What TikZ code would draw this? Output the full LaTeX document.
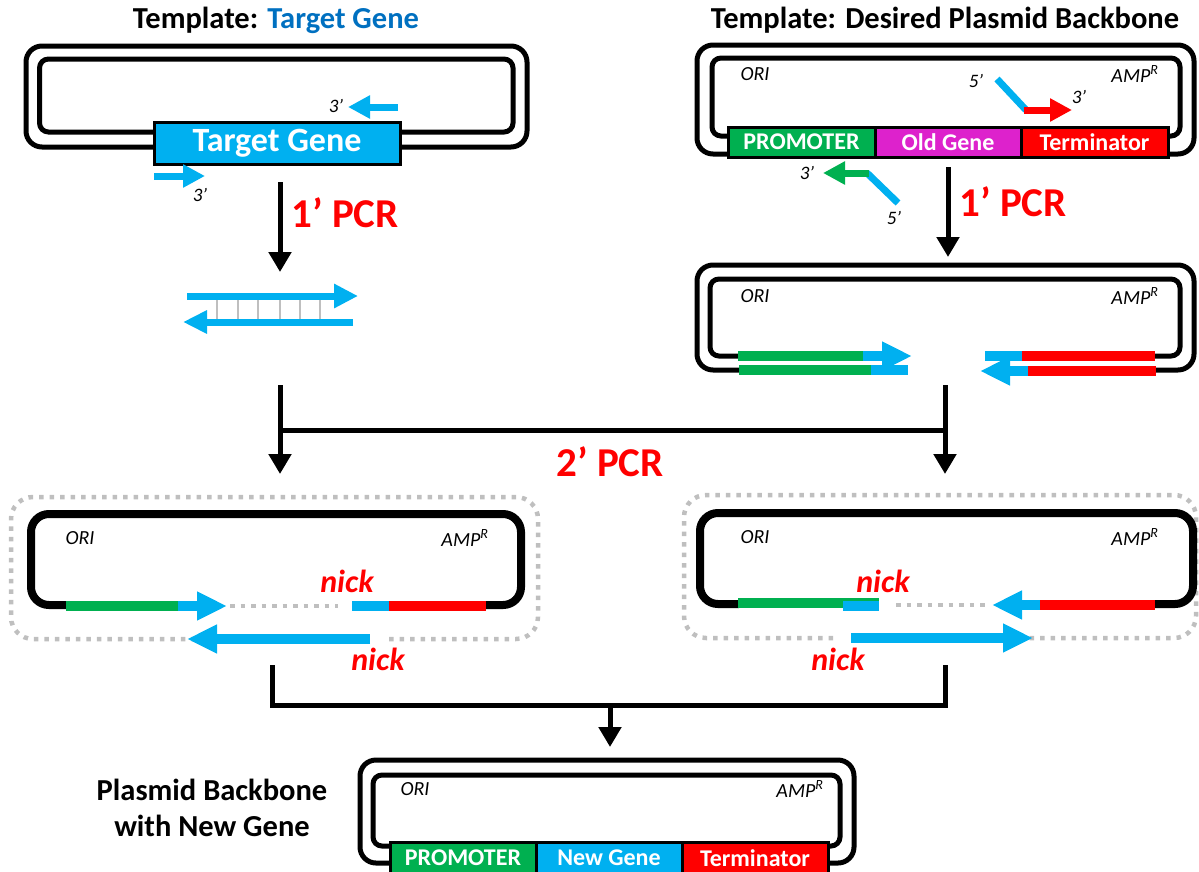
\documentclass[tikz,border=0pt]{standalone}
\usepackage{fontspec}
\setmainfont{Carlito}
\usetikzlibrary{arrows.meta}

\begin{document}
\begin{tikzpicture}[x=1pt,y=-1pt,
    backbone/.style={line width=5pt, rounded corners=16pt},
    innerbone/.style={line width=5pt, rounded corners=9pt},
    nickbone/.style={line width=8pt, rounded corners=18pt},
    dotbox/.style={draw=dotgray, line width=4.5pt, dash pattern=on 4.5pt off 6pt, rounded corners=22pt},
    part/.style={draw=black, line width=3pt},
    partlabel/.style={text=white, font=\bfseries\fontsize{24}{26}\selectfont},
    strand/.style={line width=10pt},
    strandtip/.style={-{Triangle[length=30pt,width=27pt]}},
    primer/.style={line width=7pt},
    primertip/.style={-{Triangle[length=22pt,width=22pt]}},
    flow/.style={line width=5pt, -{Triangle[length=20pt,width=22pt]}},
    title/.style={font=\bfseries\fontsize{30.5}{36}\selectfont},
    pcrlabel/.style={text=red, font=\bfseries\fontsize{41}{44}\selectfont},
    site/.style={font=\itshape\fontsize{20}{22}\selectfont},
    endmark/.style={font=\itshape\fontsize{19}{21}\selectfont},
    nicklabel/.style={text=red, font=\bfseries\itshape\fontsize{32}{34}\selectfont}]

    % Define the colors
    \definecolor{genecyan}{RGB}{0, 176, 240}
    \definecolor{promgreen}{RGB}{0, 176, 80}
    \definecolor{oldmagenta}{RGB}{221, 34, 204}
    \definecolor{termred}{RGB}{255, 0, 0}
    \definecolor{titleblue}{RGB}{0, 112, 192}
    \definecolor{dotgray}{RGB}{191, 191, 191}

    \useasboundingbox (0,0) rectangle (1199,871);

    % Titles
    \node[title] (titleL) at (276,20) {Template: \textcolor{titleblue}{Target Gene}};
    \node[title] (titleR) at (945,20) {Template: Desired Plasmid Backbone};

    % Template with the target gene
    \draw[backbone] (26,46) rectangle (527,147);
    \draw[innerbone] (39.5,59) rectangle (513,132);
    \filldraw[fill=genecyan, part] (154,122) rectangle (400,164) node[pos=.5, partlabel, font=\bfseries\fontsize{34}{36}\selectfont] (target) {Target Gene};
    \draw[primer, genecyan, primertip] (398,107) -- (348,107);
    \node[endmark] (endL1) at (336,106) {3’};
    \draw[primer, genecyan, primertip] (154,176) -- (205,176);
    \node[endmark] (endL2) at (200,195) {3’};

    % Template with the backbone
    \draw[backbone] (697,45) rectangle (1194,154);
    \draw[innerbone] (712,58) rectangle (1180,136);
    \filldraw[fill=promgreen, part] (728,127) rectangle (875,157) node[pos=.5, partlabel] (promR) {PROMOTER};
    \filldraw[fill=oldmagenta, part] (875,127) rectangle (1021,157) node[pos=.5, partlabel] (oldR) {Old Gene};
    \filldraw[fill=termred, part] (1021,127) rectangle (1168,157) node[pos=.5, partlabel] (termR) {Terminator};
    \node[site] (oriR) at (755,74) {ORI};
    \node[site] (ampR) at (1135,74) {AMP\textsuperscript{R}};
    % primers with overhangs
    \draw[primer, genecyan] (997,79) -- (1026,110);
    \draw[primer, termred, primertip] (1024,110) -- (1072,110);
    \node[endmark] (endR1) at (976,81) {5’};
    \node[endmark] (endR2) at (1079,97) {3’};
    \draw[primer, genecyan] (898,203) -- (867,173);
    \draw[primer, promgreen, primertip] (869,173) -- (823,173);
    \node[endmark] (endR3) at (807,173) {3’};
    \node[endmark] (endR4) at (894,218) {5’};

    % 1' PCR steps
    \coordinate (pcrL-a) at (280,182);
    \coordinate (pcrL-b) at (280,272);
    \draw[flow] (pcrL-a) -- (pcrL-b);
    \node[pcrlabel, anchor=west] (pcrL) at (288,213) {1’ PCR};
    \coordinate (pcrR-a) at (948,167);
    \coordinate (pcrR-b) at (948,257);
    \draw[flow] (pcrR-a) -- (pcrR-b);
    \node[pcrlabel, anchor=west] (pcrR) at (956,202) {1’ PCR};

    % Amplified target gene
    \foreach \x in {217,238,258,280,300,320}
        \draw[dotgray, line width=1.5pt] (\x,300) -- (\x,319);
    \draw[primer, genecyan, -{Triangle[length=24pt,width=23pt]}] (187,296) -- (358,296);
    \draw[primer, genecyan, -{Triangle[length=24pt,width=22pt]}] (353,322) -- (183,322);

    % Amplified backbone
    \draw[backbone] (740,370) -- (697,370) -- (697,265) -- (1194,265) -- (1194,370) -- (1156,370);
    \draw[innerbone] (740,356) -- (710,356) -- (710,279) -- (1180,279) -- (1180,356) -- (1155,356);
    \node[site] (oriM) at (755,296) {ORI};
    \node[site] (ampM) at (1135,296) {AMP\textsuperscript{R}};
    \draw[strand, promgreen] (738,356) -- (864,356);
    \draw[strand, genecyan, strandtip] (863,356) -- (912,356);
    \draw[strand, promgreen] (739,370) -- (872,370);
    \draw[strand, genecyan] (871,370) -- (908,370);
    \draw[strand, genecyan] (985,356) -- (1023,356);
    \draw[strand, termred] (1022,356) -- (1155,356);
    \draw[strand, genecyan, strandtip] (1029,371) -- (980,371);
    \draw[strand, termred] (1028,371) -- (1156,371);

    % 2' PCR
    \coordinate (mixL) at (280,385);
    \coordinate (mixR) at (945,385);
    \coordinate (mixL-b) at (280,474);
    \coordinate (mixR-b) at (945,474);
    \draw[flow] (mixL) -- (mixL-b);
    \draw[flow] (mixR) -- (mixR-b);
    \draw[line width=5pt] (280,430) -- (945,430);
    \node[pcrlabel] (pcr2) at (610,462) {2’ PCR};

    % Nicked product, left
    \draw[dotbox] (389,639) -- (538,639) -- (538,497) -- (11,497) -- (11,639) -- (200,639);
    \draw[nickbone] (66,605) -- (31,605) -- (31,514) -- (521,514) -- (521,605) -- (486,605);
    \node[site] (oriNL) at (80,538) {ORI};
    \node[site] (ampNL) at (465,538) {AMP\textsuperscript{R}};
    \draw[dotgray, line width=4.5pt, dash pattern=on 4.5pt off 6pt] (230,606) -- (338,606);
    \draw[strand, promgreen] (66,606) -- (179,606);
    \draw[strand, genecyan, strandtip] (178,606) -- (227,606);
    \draw[strand, genecyan] (352,606) -- (390,606);
    \draw[strand, termred] (389,606) -- (486,606);
    \draw[strand, genecyan, strandtip] (370,639) -- (187,639);
    \node[nicklabel] (nickL1) at (347,581) {nick};
    \node[nicklabel] (nickL2) at (378,659) {nick};

    % Nicked product, right
    \draw[dotbox] (833,638) -- (684,638) -- (684,495) -- (1196,495) -- (1196,638) -- (1000,638);
    \draw[nickbone] (739,604) -- (700,604) -- (700,513) -- (1193,513) -- (1193,604) -- (1154,604);
    \node[site] (oriNR) at (755,537) {ORI};
    \node[site] (ampNR) at (1135,537) {AMP\textsuperscript{R}};
    \draw[dotgray, line width=4.5pt, dash pattern=on 4.5pt off 6pt] (896,605) -- (990,605);
    \draw[strand, promgreen] (738,603) -- (879,603);
    \draw[strand, genecyan] (843,606) -- (879,606);
    \draw[strand, genecyan, strandtip] (1041,605) -- (992,605);
    \draw[strand, termred] (1040,605) -- (1155,605);
    \draw[strand, genecyan, strandtip] (851,638) -- (1033,638);
    \node[nicklabel] (nickR1) at (883,581) {nick};
    \node[nicklabel] (nickR2) at (838,659) {nick};

    % Join to the final plasmid
    \coordinate (joinL) at (272,665);
    \coordinate (joinR) at (945,665);
    \coordinate (joinM) at (610,705);
    \coordinate (finalTop) at (610,747);
    \draw[line width=5pt, line join=miter] (joinL) |- (joinM) -| (joinR);
    \draw[flow] (joinM) -- (finalTop);

    % Final plasmid
    \draw[backbone] (360,760) rectangle (854,863);
    \draw[innerbone] (373,775) rectangle (840,846);
    \filldraw[fill=promgreen, part] (390,842) rectangle (536,874) node[pos=.5, partlabel] (promF) {PROMOTER};
    \filldraw[fill=genecyan, part] (536,842) rectangle (682,874) node[pos=.5, partlabel] (newF) {New Gene};
    \filldraw[fill=termred, part] (682,842) rectangle (828,874) node[pos=.5, partlabel] (termF) {Terminator};
    \node[site] (oriF) at (415,789) {ORI};
    \node[site] (ampF) at (800,789) {AMP\textsuperscript{R}};
    \node[title, align=center] (result) at (212,808) {Plasmid Backbone\\with New Gene};

\end{tikzpicture}
\end{document}
